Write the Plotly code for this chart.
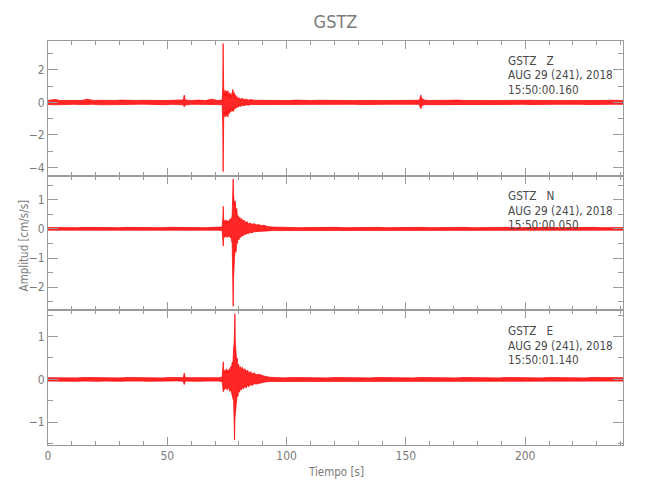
import plotly.graph_objects as go
from plotly.subplots import make_subplots

# ---- data: envelope of each trace, rows of (time s, upper, lower) ----
z_env = [
    (0, .12, -.13), (3, .18, -.15), (5, .12, -.12), (8, .13, -.14), (11, .11, -.12),
    (14, .12, -.13), (16.5, .2, -.14), (19, .12, -.12), (22, .13, -.15), (25, .11, -.12),
    (28, .12, -.13), (31, .14, -.11), (34, .11, -.13), (37, .12, -.12), (40, .13, -.11),
    (43, .11, -.13), (46, .12, -.12), (49, .11, -.14), (52, .13, -.12), (55, .12, -.13),
    (56.7, .15, -.15), (57.1, .45, -.27), (57.5, .15, -.16), (60, .12, -.12), (63, .14, -.13),
    (66, .11, -.12), (68.5, .2, -.12), (71, .12, -.13), (73.0, .14, -.15), (73.25, 1.0, -1.5),
    (73.4, 3.62, -4.25), (73.5, 2.2, -2.4), (73.65, .9, -1.0), (73.9, .45, -.6), (74.2, .75, -.9),
    (74.5, .4, -.55), (74.8, .7, -.85), (75.1, .5, -.6), (75.4, .72, -.9), (75.7, .35, -.5),
    (76.0, .6, -.7), (76.3, .3, -.45), (76.6, .55, -.6), (76.9, .35, -.4), (77.2, .6, -.55),
    (77.5, .8, -.45), (77.8, .4, -.55), (78.1, .6, -.35), (78.4, .3, -.4), (78.7, .45, -.25),
    (79.0, .25, -.35), (79.4, .35, -.22), (79.8, .2, -.3), (80.3, .28, -.2), (80.8, .18, -.25),
    (81.5, .25, -.17), (82.2, .17, -.2), (83.0, .2, -.15), (84.0, .14, -.17), (85.0, .17, -.13),
    (86.5, .13, -.14), (89, .12, -.13), (92, .11, -.12), (95, .13, -.12), (98, .12, -.14),
    (101, .11, -.12), (104, .14, -.12), (107, .12, -.13), (110, .11, -.12), (113, .13, -.11),
    (116, .12, -.13), (119, .11, -.12), (122, .13, -.14), (125, .12, -.12), (128, .11, -.12),
    (131, .12, -.13), (134, .14, -.12), (137, .12, -.11), (140, .11, -.13), (143, .12, -.12),
    (146, .13, -.12), (149, .12, -.14), (152, .11, -.12), (155.5, .13, -.12), (155.9, .25, -.22),
    (156.3, .45, -.39), (156.6, .25, -.25), (157.0, .2, -.18), (157.6, .15, -.14), (160, .12, -.12),
    (163, .13, -.13), (166, .11, -.12), (169, .12, -.14), (172, .14, -.12), (175, .12, -.11),
    (178, .11, -.13), (181, .13, -.12), (184, .12, -.12), (187, .11, -.13), (190, .12, -.12),
    (193, .13, -.14), (196, .12, -.12), (199, .11, -.12), (202, .13, -.13), (205, .12, -.11),
    (208, .14, -.12), (211, .12, -.13), (214, .11, -.12), (217, .13, -.12), (220, .12, -.14),
    (223, .11, -.12), (226, .12, -.13), (229, .13, -.12), (232, .12, -.11), (235, .11, -.13),
    (238, .13, -.12), (241, .12, -.12),
]

n_env = [
    (0, .045, -.045), (3, .04, -.05), (6, .05, -.04), (9, .045, -.045), (12, .04, -.05),
    (15, .05, -.045), (18, .045, -.04), (21, .04, -.05), (24, .05, -.045), (27, .045, -.04),
    (30, .04, -.05), (33, .05, -.045), (36, .045, -.04), (39, .04, -.045), (42, .05, -.05),
    (45, .045, -.04), (48, .04, -.05), (51, .05, -.045), (54, .045, -.04), (57, .04, -.05),
    (60, .05, -.045), (63, .045, -.04), (66, .04, -.05), (69, .05, -.045), (71.5, .045, -.045),
    (73.0, .06, -.06), (73.3, .4, -.35), (73.45, .77, -.59), (73.6, .35, -.3), (73.9, .2, -.3),
    (74.2, .3, -.2), (74.5, .18, -.28), (74.8, .3, -.22), (75.1, .2, -.3), (75.4, .28, -.18),
    (75.7, .2, -.27), (76.0, .32, -.22), (76.3, .22, -.3), (76.6, .35, -.25), (76.9, .3, -.4),
    (77.2, .5, -.5), (77.45, 1.1, -1.2), (77.6, 1.71, -2.65), (77.75, 1.2, -1.7), (77.95, 1.0, -1.2),
    (78.2, .8, -.95), (78.5, .95, -.7), (78.8, .6, -.8), (79.1, .7, -.45), (79.4, .4, -.5),
    (79.7, .45, -.3), (80.0, .3, -.38), (80.4, .4, -.25), (80.8, .28, -.3), (81.2, .35, -.2),
    (81.7, .25, -.25), (82.2, .3, -.18), (82.8, .2, -.2), (83.4, .25, -.15), (84.0, .17, -.17),
    (84.7, .2, -.12), (85.5, .15, -.14), (86.3, .18, -.1), (87.2, .13, -.11), (88.2, .15, -.09),
    (89.3, .11, -.09), (90.5, .12, -.08), (92, .08, -.07), (94, .06, -.06), (97, .05, -.045),
    (100, .045, -.05), (103, .05, -.04), (106, .04, -.045), (109, .045, -.05), (112, .05, -.045),
    (115, .04, -.04), (118, .045, -.05), (121, .05, -.045), (124, .04, -.04), (127, .045, -.05),
    (130, .05, -.045), (133, .04, -.04), (136, .045, -.05), (139, .05, -.045), (142, .04, -.04),
    (145, .045, -.05), (148, .05, -.045), (151, .04, -.04), (154, .045, -.05), (157, .05, -.045),
    (160, .04, -.04), (163, .045, -.05), (166, .05, -.045), (169, .04, -.04), (172, .045, -.05),
    (175, .05, -.045), (178, .04, -.04), (181, .045, -.05), (184, .05, -.045), (187, .04, -.04),
    (190, .045, -.05), (193, .05, -.045), (196, .04, -.04), (199, .045, -.05), (202, .05, -.045),
    (205, .04, -.04), (208, .045, -.05), (211, .05, -.045), (214, .04, -.04), (217, .045, -.05),
    (220, .05, -.045), (223, .04, -.04), (226, .045, -.05), (229, .05, -.045), (232, .04, -.04),
    (235, .045, -.05), (238, .05, -.045), (241, .045, -.045),
]

e_env = [
    (0, .04, -.04), (3, .035, -.045), (6, .045, -.035), (9, .04, -.04), (12, .035, -.045),
    (15, .045, -.04), (18, .04, -.035), (21, .035, -.045), (24, .045, -.04), (27, .04, -.035),
    (30, .035, -.045), (33, .045, -.04), (36, .04, -.035), (39, .035, -.04), (42, .045, -.045),
    (45, .04, -.035), (48, .035, -.045), (51, .045, -.04), (54, .04, -.035), (56.7, .04, -.045),
    (57.1, .15, -.12), (57.5, .045, -.04), (60, .04, -.035), (63, .035, -.045), (66, .045, -.04),
    (69, .04, -.035), (71.5, .04, -.04), (73.0, .05, -.05), (73.3, .3, -.2), (73.45, .41, -.29),
    (73.6, .25, -.22), (73.9, .15, -.25), (74.2, .22, -.15), (74.5, .15, -.22), (74.8, .25, -.18),
    (75.1, .17, -.25), (75.4, .22, -.15), (75.7, .15, -.2), (76.0, .25, -.2), (76.3, .18, -.28),
    (76.6, .3, -.22), (76.9, .25, -.3), (77.2, .4, -.35), (77.5, .35, -.45), (77.8, .75, -.5),
    (78.0, .8, -.7), (78.2, 1.2, -1.41), (78.35, 1.53, -.9), (78.5, .9, -.75), (78.75, .65, -.55),
    (79.0, .45, -.5), (79.3, .5, -.35), (79.6, .3, -.4), (79.9, .35, -.25), (80.3, .25, -.3),
    (80.7, .3, -.2), (81.1, .22, -.25), (81.5, .28, -.18), (82.0, .2, -.22), (82.5, .25, -.15),
    (83.0, .18, -.2), (83.6, .22, -.14), (84.2, .15, -.17), (84.9, .18, -.12), (85.6, .13, -.14),
    (86.4, .15, -.1), (87.3, .11, -.11), (88.3, .12, -.08), (89.5, .09, -.08), (91, .07, -.06),
    (93, .05, -.05), (96, .04, -.04), (99, .035, -.045), (102, .045, -.04), (105, .04, -.035),
    (108, .035, -.045), (111, .045, -.04), (114, .04, -.035), (117, .035, -.045), (120, .045, -.04),
    (123, .04, -.035), (126, .035, -.045), (129, .045, -.04), (132, .04, -.035), (135, .035, -.045),
    (138, .045, -.04), (141, .04, -.035), (144, .035, -.045), (147, .045, -.04), (150, .04, -.035),
    (153, .035, -.045), (156, .045, -.04), (159, .04, -.035), (162, .035, -.045), (165, .045, -.04),
    (168, .04, -.035), (171, .035, -.045), (174, .045, -.04), (177, .04, -.035), (180, .035, -.045),
    (183, .045, -.04), (186, .04, -.035), (189, .035, -.045), (192, .045, -.04), (195, .04, -.035),
    (198, .035, -.045), (201, .045, -.04), (204, .04, -.035), (207, .035, -.045), (210, .045, -.04),
    (213, .04, -.035), (216, .035, -.045), (219, .045, -.04), (222, .04, -.035), (225, .035, -.045),
    (228, .045, -.04), (231, .04, -.035), (234, .035, -.045), (237, .045, -.04), (241, .04, -.04),
]

components = ["Z", "N", "E"]
start_times = ["15:50:00.160", "15:50:00.050", "15:50:01.140"]
station = "GSTZ"
date_label = "AUG 29 (241), 2018"
y_ranges = [[-4.5, 3.77], [-2.79, 1.82], [-1.53, 1.61]]
y_dticks = [2, 1, 1]
y_minor = [1, 0.5, 0.5]
x_range = [0, 241]

envs = [z_env, n_env, e_env]

FONT = "DejaVu Sans Condensed, Liberation Sans Narrow, sans-serif"
AX = "#9a9a9a"
TXT = "#7a7a7a"

fig = make_subplots(rows=3, cols=1, shared_xaxes=True, vertical_spacing=0)

for i, env in enumerate(envs):
    t = [r[0] for r in env]
    hi = [r[1] for r in env]
    lo = [r[2] for r in env]
    xs = t + t[::-1]
    ys = hi + lo[::-1]
    fig.add_trace(go.Scatter(x=xs, y=ys, mode="lines", fill="toself",
                             fillcolor="rgba(255,0,0,0.85)",
                             line=dict(color="rgb(255,0,0)", width=0.7),
                             hoverinfo="skip", showlegend=False),
                  row=i + 1, col=1)

for i in range(3):
    fig.update_yaxes(range=y_ranges[i], dtick=y_dticks[i], tick0=0,
                     showline=True, linecolor=AX, linewidth=1, mirror="ticks",
                     ticks="inside", ticklen=10, tickcolor=AX, tickwidth=1,
                     minor=dict(dtick=y_minor[i], tick0=0, ticks="inside",
                                ticklen=5, tickcolor=AX),
                     showgrid=False, zeroline=False,
                     tickfont=dict(family=FONT, size=12, color=TXT),
                     row=i + 1, col=1)
    fig.update_xaxes(range=x_range, dtick=50, tick0=0,
                     showline=True, linecolor=AX, linewidth=1, mirror="ticks",
                     ticks="inside", ticklen=8, tickcolor=AX, tickwidth=1,
                     minor=dict(dtick=10, tick0=0, ticks="inside",
                                ticklen=4, tickcolor=AX),
                     showgrid=False, zeroline=False,
                     tickfont=dict(family=FONT, size=12, color=TXT),
                     row=i + 1, col=1)

# panel labels
label_y = [[0.950, 0.915, 0.8795], [0.6158, 0.5797, 0.5453], [0.2814, 0.2458, 0.2104]]
anns = []
for i in range(3):
    lines = [station + "\u00a0\u00a0\u00a0" + components[i], date_label, start_times[i]]
    for j, s in enumerate(lines):
        anns.append(dict(text=s, x=0.7965, y=label_y[i][j], xref="paper", yref="paper",
                         xanchor="left", yanchor="middle", showarrow=False,
                         font=dict(family=FONT, size=11.7, color="#4a4a4a")))
anns.append(dict(text="Amplitud [cm/s/s]", x=-0.041, y=0.495, xref="paper", yref="paper",
                 textangle=-90, xanchor="center", yanchor="middle", showarrow=False,
                 font=dict(family=FONT, size=11.5, color=TXT)))
anns.append(dict(text="Tiempo [s]", x=0.5, y=-0.0668, xref="paper", yref="paper",
                 xanchor="center", yanchor="middle", showarrow=False,
                 font=dict(family=FONT, size=11.5, color=TXT)))

fig.update_layout(
    width=650, height=500,
    margin=dict(l=40, r=35, t=33, b=63),
    paper_bgcolor="white", plot_bgcolor="white",
    title=dict(text=station, x=0.5, xref="paper", xanchor="center", y=0.972, yanchor="middle",
               font=dict(family=FONT, size=18, color=TXT)),
    annotations=anns,
    showlegend=False,
)

fig.write_html("out.html")
